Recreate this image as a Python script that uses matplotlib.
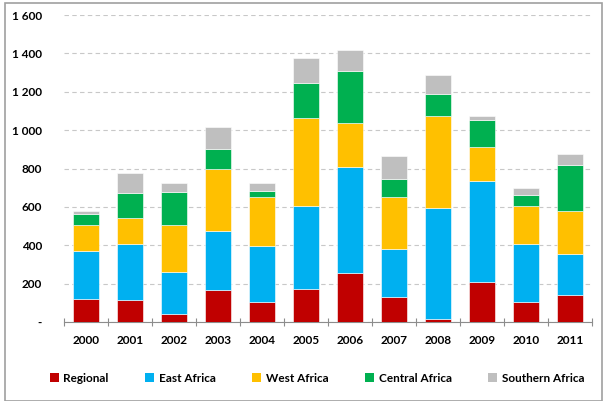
import numpy as np
import matplotlib.pyplot as plt
from matplotlib.ticker import FuncFormatter, MultipleLocator
from matplotlib.patches import Rectangle, Patch

# ------------------------------------------------------------
# Data
# ------------------------------------------------------------
years = ['2000', '2001', '2002', '2003', '2004', '2005',
         '2006', '2007', '2008', '2009', '2010', '2011']
regional = [121, 116, 43, 167, 102, 170, 253, 130, 14, 206, 106, 139]
east_africa = [247, 292, 219, 305, 292, 434, 556, 252, 581, 530, 302, 213]
west_africa = [139, 132, 245, 324, 260, 461, 229, 272, 479, 178, 199, 229]
central_africa = [55, 133, 170, 104, 31, 181, 272, 92, 113, 137, 56, 238]
southern_africa = [16, 104, 50, 118, 42, 128, 106, 120, 100, 23, 36, 57]

series = [
    ('Regional', regional, '#C00000'),
    ('East Africa', east_africa, '#00B0F0'),
    ('West Africa', west_africa, '#FFC000'),
    ('Central Africa', central_africa, '#00B050'),
    ('Southern Africa', southern_africa, '#BFBFBF'),
]

plt.rcParams['font.family'] = ['Lato', 'DejaVu Sans']
plt.rcParams['font.weight'] = 'bold'

fig = plt.figure(figsize=(6.04, 4.01), dpi=100)
ax = fig.add_axes([64 / 604, 1 - 322 / 401, 528 / 604, 307 / 401])

x = np.arange(len(years))
bottom = np.zeros(len(years))
for name, vals, col in series:
    vals = np.array(vals)
    ax.bar(x, vals, width=0.59, bottom=bottom, color=col,
           edgecolor='white', linewidth=0.4, label=name, zorder=3)
    bottom += vals

# axes styling
ax.set_xlim(-0.5, len(years) - 0.5)
ax.set_ylim(0, 1600)
ax.yaxis.set_major_locator(MultipleLocator(200))
ax.yaxis.set_major_formatter(FuncFormatter(
    lambda v, p: '-' if v == 0 else f'{int(v):,}'.replace(',', ' ')))
ax.grid(axis='y', linestyle=(0, (4, 3)), color='#C8C8C8', linewidth=0.8, zorder=0)
for s in ['top', 'right', 'left']:
    ax.spines[s].set_visible(False)
ax.spines['bottom'].set_color('#8C8C8C')
ax.tick_params(axis='y', length=0, pad=16, labelsize=8.5)
ax.set_xticks(x)
ax.set_xticklabels(years)
ax.tick_params(axis='x', length=0, pad=9, labelsize=8.5)
ax.set_xticks(np.arange(-0.5, len(years)), minor=True)
ax.tick_params(axis='x', which='minor', direction='inout', length=6,
               color='#8C8C8C', width=0.8)

# legend
handles = [Patch(facecolor=col, edgecolor='none', label=name) for name, _, col in series]
fig.legend(handles=handles, loc='center', bbox_to_anchor=(317 / 604, 1 - 378 / 401),
           ncol=5, frameon=False, fontsize=8.5, handlelength=0.75, handleheight=0.75,
           handletextpad=0.4, columnspacing=3.1)

# outer frame
fig.patches.append(Rectangle((5 / 604, 0), 597 / 604, 1 - 3 / 401, transform=fig.transFigure,
                             fill=False, edgecolor='#A0A0A0', linewidth=1.2))

fig.savefig('out.png', dpi=100)
